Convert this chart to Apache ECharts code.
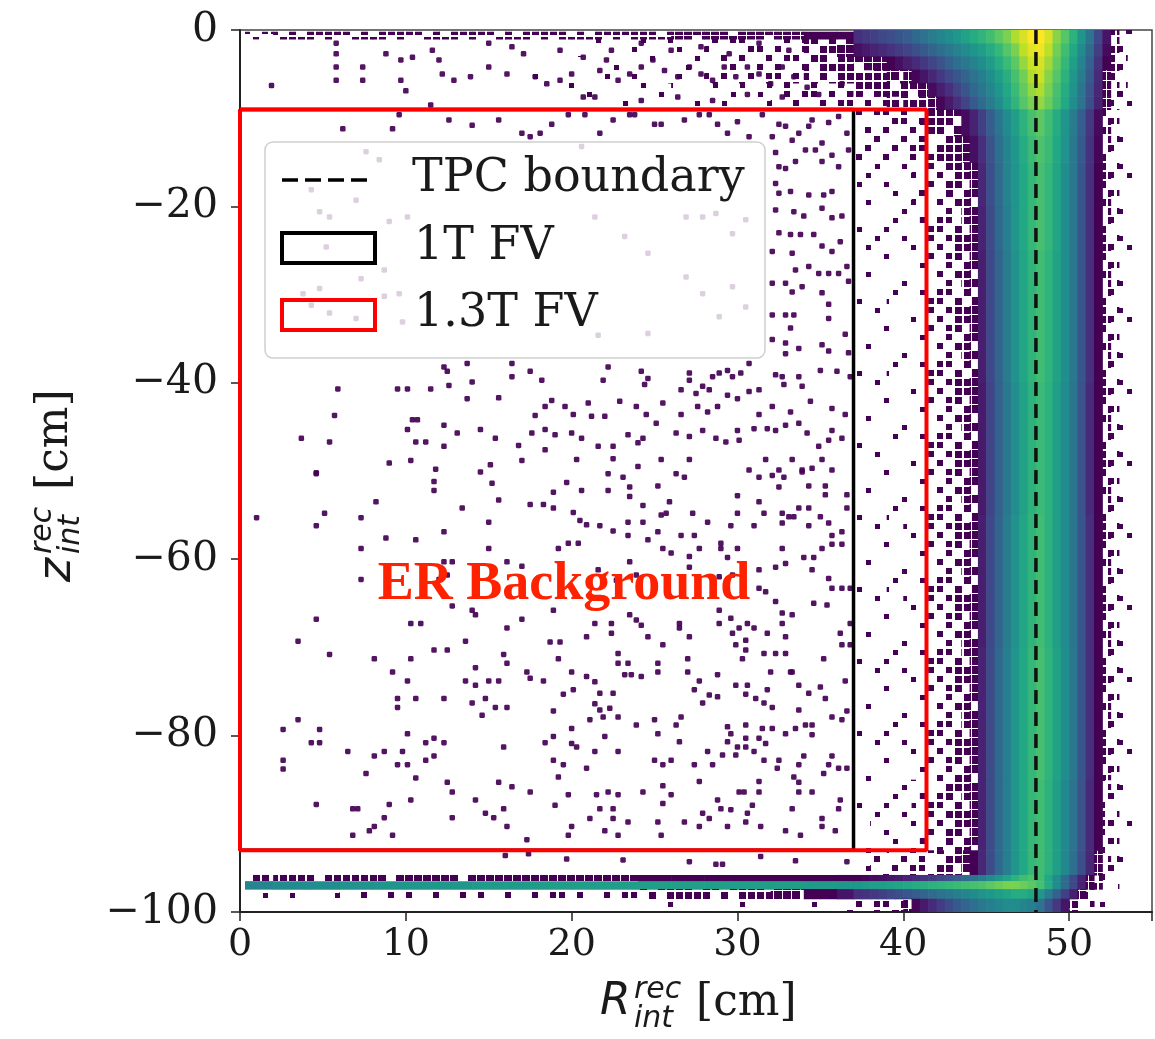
<!DOCTYPE html>
<html><head><meta charset="utf-8">
<script src="https://cdn.jsdelivr.net/npm/echarts@6/dist/echarts.min.js"></script>
<style>html,body{margin:0;padding:0;background:#fff}#c{width:1155px;height:1039px}</style>
</head><body><div id="c"></div>
<script>
// ---------- data ----------
const xTicks = [0, 10, 20, 30, 40, 50];
const yTicks = [0, -20, -40, -60, -80, -100];
const xRange = [0, 55];
const yRange = [-100, 0];
const tpcBoundaryR = 48.0;
const fv1R = [0, 37.0], fv1Z = [-9, -93];
const fv13R = [0, 41.4], fv13Z = [-9, -93];

// individual sparse events [R, z]
const sparseEvents = [
[5.8,-1.5],[5.8,-2.7],[5.8,-4.2],[5.8,-5.7],[7.4,-4.2],[7.4,-5.7],[1.9,-6.3],[8.8,-2.7],[9.7,-3.4],[10.4,-3.1],[11.6,-2.3],[12.0,-3.4],[12.2,-5.0],[9.7,-5.7],[10.0,-6.9],[12.9,-5.7],[13.9,-5.3],[15.0,-4.2],[16.1,-5.0],[16.4,-1.9],[15.0,-1.5],[17.8,-5.3],[18.5,-6.1],[19.3,-5.7],[20.0,-5.0],[20.7,-7.6],[21.4,-7.6],[21.7,-4.6],[22.1,-3.4],[22.8,-5.7],[23.5,-5.0],[24.2,-4.2],[24.2,-8.0],[24.9,-3.4],[25.6,-4.6],[26.4,-5.3],[27.1,-4.2],[27.8,-5.0],[28.5,-5.7],[29.2,-4.2],[29.9,-5.3],[30.6,-4.2],[31.3,-5.0],[32.0,-6.1],[32.7,-4.2],[33.4,-5.3],[34.2,-6.5],[26.4,-7.6],[28.5,-8.0],[30.6,-7.3],[32.7,-7.6],[34.9,-7.3],[36.3,-6.1],[17.1,-2.7],[19.3,-2.3],[20.7,-3.1],[22.4,-2.3],[24.2,-1.5],[26.0,-2.3],[27.8,-1.9],[29.5,-2.7],[31.3,-1.5],[33.1,-2.3],
[11.5,-8.5],[9.6,-9.6],[6.2,-11.2],[9.2,-11.2],[12.6,-10.2],[14.0,-10.8],[15.6,-10.2],[17.0,-11.7],[17.5,-12.1],[18.1,-11.7],[12.3,-38.2],[12.5,-38.7],[13.7,-37.8],[16.4,-37.8],[5.9,-40.7],[9.5,-40.7],[10.1,-40.7],[11.5,-40.7],[12.6,-40.3],[14.0,-39.9],[13.7,-41.8],[15.6,-41.7],[16.4,-39.3],[17.5,-38.7],[18.2,-39.7],[5.7,-43.7],[10.4,-44.2],[10.7,-44.2],[12.3,-44.8],[17.8,-43.7],[18.4,-42.7],[10.1,-45.3],[13.1,-45.7],[14.5,-45.3],[15.4,-46.3],[17.6,-45.7],[18.4,-45.3],[3.7,-46.3],[5.4,-46.7],[10.6,-46.7],[11.2,-46.7],[12.3,-47.2],[16.8,-47.1],[18.4,-47.6],[9.0,-49.1],[10.3,-48.8],[11.8,-49.8],[14.5,-50.1],[15.1,-49.3],[17.0,-48.8],[4.6,-50.2],
[7.6,-13.8],[8.4,-14.7],[4.3,-18.1],[4.8,-20.6],[5.4,-21.2],[7.0,-19.3],[9.0,-21.7],[10.1,-21.2],[5.2,-24.6],[8.7,-27.2],[7.3,-28.2],[3.8,-29.9],[4.8,-29.3],[4.3,-31.2],[5.4,-32.1],[7.0,-32.7],[8.7,-30.2],[9.6,-29.9],[9.8,-33.1],
[18.8,-10.7],[19.8,-9.6],[20.8,-9.6],[21.7,-11.7],[22.5,-10.2],[23.5,-9.6],[23.8,-9.6],[25.0,-10.7],[25.4,-10.7],[26.8,-10.2],[27.7,-9.6],[28.3,-9.6],[28.8,-10.7],[29.4,-11.7],[30.0,-10.4],[30.7,-12.1],[31.5,-9.6],[32.1,-12.1],[32.5,-10.7],[32.9,-10.9],[33.3,-12.5],[33.7,-11.7],[34.3,-10.9],[34.5,-10.2],[35.1,-12.8],[35.5,-10.5],[36.1,-9.8],[36.6,-11.7],
[32.3,-13.9],[32.5,-15.5],[32.3,-17.4],[32.9,-15.7],[33.5,-14.9],[34.1,-13.6],[34.7,-13.6],[35.1,-14.9],[35.7,-14.2],[36.1,-15.5],[36.7,-13.6],[32.5,-18.5],[33.2,-18.3],[34.3,-18.7],[35.2,-18.7],[35.7,-18.3],[32.3,-20.4],[33.4,-20.6],[34.0,-21.1],[35.1,-20.2],[35.7,-21.3],[36.3,-21.1],[32.5,-23.0],[33.2,-23.2],[33.8,-23.2],[34.6,-23.2],[35.1,-24.5],[35.7,-25.1],[36.2,-24.0],[36.6,-26.8],[32.1,-25.1],[33.3,-25.3],[33.5,-27.2],[34.3,-26.8],[34.9,-27.6],[35.5,-27.6],[36.1,-27.6],[32.1,-28.7],[32.9,-28.7],[33.3,-29.7],[33.9,-29.1],[35.1,-29.8],[35.5,-31.1],[36.7,-28.5],[32.1,-32.3],[32.9,-32.3],[33.4,-32.3],[33.2,-33.8],[35.5,-32.7],[32.1,-35.1],[32.9,-35.5],[32.9,-36.7],[33.7,-36.1],[35.1,-35.7],[35.5,-36.4],[36.5,-34.5],[36.7,-36.6],
[22.2,-38.2],[21.9,-39.7],[24.2,-38.7],[24.4,-40.2],[24.6,-39.5],[27.1,-38.9],[27.1,-39.7],[26.6,-40.8],[27.5,-41.2],[27.9,-40.4],[28.3,-40.8],[28.5,-39.3],[28.9,-38.9],[29.4,-38.6],[29.7,-39.3],[30.2,-38.9],[30.7,-37.8],[31.3,-40.8],[32.3,-39.1],[32.7,-39.3],[32.8,-40.2],[33.7,-39.3],[33.9,-40.4],[35.0,-38.6],[36.0,-38.7],[36.8,-39.3],[18.8,-42.0],[19.6,-42.7],[20.1,-43.6],[21.0,-42.3],[22.0,-43.8],[21.2,-43.8],[22.9,-42.1],[23.9,-42.7],[24.5,-43.6],[25.5,-42.3],[26.6,-43.6],[27.6,-42.7],[28.2,-43.3],[28.8,-42.7],[29.4,-41.4],[30.0,-41.8],[30.7,-41.0],[31.3,-43.6],[32.1,-42.7],[33.2,-43.3],[34.4,-42.1],[35.7,-42.9],[36.5,-43.6],[19.0,-45.9],[20.0,-45.7],[20.6,-46.3],[21.6,-47.2],[22.5,-47.2],[23.4,-45.9],[24.0,-46.8],[24.3,-46.3],[25.1,-44.6],[25.4,-48.7],[26.3,-45.7],[27.1,-46.1],[27.9,-45.4],[28.7,-46.3],[29.3,-46.7],[30.0,-45.4],[30.1,-46.5],[31.0,-45.2],[31.8,-45.2],[32.3,-45.4],[32.9,-44.8],[33.7,-44.6],[34.2,-45.7],[34.9,-47.2],[35.5,-46.5],[35.7,-45.4],[36.3,-46.3],[20.3,-48.7],[22.5,-48.6],[24.0,-49.5],[27.1,-48.7],[30.7,-49.9],[31.7,-48.7],[32.5,-49.9],[33.3,-48.7],[33.9,-49.9],[34.5,-49.7],[35.1,-48.7],[35.7,-49.9],
[20.6,-13.2],[21.4,-21.2],[23.2,-23.4],[24.6,-25.3],[26.9,-21.2],[27.9,-21.2],[28.7,-20.8],[29.7,-23.1],[30.5,-21.5],[26.9,-28.0],[27.9,-29.9],[29.7,-29.1],[28.9,-32.5],[24.6,-34.4],[21.6,-34.6],[30.5,-31.4],
[1.0,-55.3],[4.6,-50.3],[4.6,-56.2],[5.1,-54.8],[7.3,-55.3],[7.3,-58.8],[7.3,-62.3],[8.2,-53.5],[8.8,-57.6],[10.6,-57.8],[11.7,-51.2],[11.7,-52.2],[13.4,-54.2],[15.0,-55.8],[15.0,-58.8],[15.2,-51.4],[15.6,-53.3],[12.3,-56.9],[12.3,-60.3],[12.8,-60.3],[12.5,-61.8],[12.0,-62.3],[4.6,-66.8],[3.5,-69.3],[5.4,-70.8],[8.1,-71.3],[10.3,-67.3],[10.9,-67.3],[10.3,-71.3],[9.2,-72.8],[10.1,-73.8],[11.7,-70.3],[12.5,-70.3],[13.6,-69.3],[12.8,-65.3],[14.0,-65.8],[14.2,-66.3],[16.1,-67.8],[17.0,-66.8],[15.9,-70.8],[16.1,-71.8],[14.2,-72.3],[13.6,-73.8],[14.2,-74.3],[15.0,-73.8],[15.6,-73.8],[17.3,-72.8],[17.5,-73.5],[18.3,-73.8],[9.5,-75.8],[9.5,-76.8],[10.6,-75.8],[12.3,-75.8],[14.0,-76.3],[14.8,-75.8],[14.6,-77.7],[15.4,-76.8],[16.1,-76.8],[3.5,-78.2],[2.6,-79.3],[4.8,-79.3],[4.3,-80.8],[4.8,-80.8],[10.1,-79.8],[11.2,-80.8],[11.7,-80.3],[12.3,-80.8],[6.5,-81.8],[8.1,-82.3],[8.7,-81.8],[9.8,-81.8],[9.5,-83.3],[10.1,-83.3],[11.2,-82.8],[11.7,-82.3],[2.6,-82.8],[2.6,-83.8],[7.6,-84.3],[10.6,-84.8],[12.5,-85.3],[12.8,-86.4],[15.9,-81.3],[15.6,-85.3],[16.4,-85.8],[17.5,-86.4],[4.6,-87.8],[6.8,-88.3],[7.1,-88.3],[9.0,-87.8],[8.7,-89.3],[10.3,-87.3],[8.1,-90.3],[7.8,-90.8],[6.8,-91.3],[9.2,-91.3],[12.8,-89.3],[14.2,-87.3],[14.8,-88.8],[15.3,-89.3],[15.9,-88.3],[16.1,-90.3],[17.3,-91.8],[17.5,-53.8],[18.3,-53.8],[17.0,-60.8],[16.1,-60.3],[18.4,-80.8],
[22.2,-50.3],[23.1,-50.7],[26.3,-50.3],[26.8,-50.7],[31.3,-50.7],[32.1,-50.5],[32.8,-50.7],[33.9,-50.1],[19.7,-51.3],[20.6,-52.2],[22.2,-52.2],[23.5,-51.8],[23.5,-52.9],[25.2,-51.7],[30.0,-52.8],[31.3,-53.5],[32.5,-51.8],[34.3,-51.7],[35.3,-51.7],[35.3,-52.7],[36.6,-52.7],[18.9,-52.4],[18.9,-54.2],[20.1,-54.7],[20.5,-55.6],[20.9,-56.1],[21.7,-56.2],[22.5,-56.8],[23.4,-55.8],[23.4,-57.3],[24.3,-55.8],[24.3,-53.9],[25.2,-56.9],[25.4,-55.0],[25.7,-54.8],[25.9,-53.5],[26.6,-57.3],[27.3,-54.8],[27.4,-57.3],[28.2,-55.8],[29.6,-56.2],[30.0,-54.8],[31.0,-56.2],[31.6,-54.8],[32.7,-54.8],[32.7,-55.9],[33.1,-55.2],[33.4,-55.2],[33.7,-54.2],[34.3,-54.2],[34.3,-56.2],[35.0,-55.2],[35.5,-55.9],[35.7,-57.3],[36.3,-56.9],[36.6,-54.2],
[19.2,-58.8],[19.8,-58.2],[20.4,-58.2],[21.6,-61.2],[23.5,-60.3],[24.6,-57.8],[25.5,-58.8],[26.0,-59.3],[27.1,-59.7],[27.1,-60.9],[27.7,-58.8],[29.0,-58.2],[29.0,-58.8],[29.4,-59.8],[30.0,-58.8],[31.3,-61.2],[32.3,-60.9],[32.7,-58.8],[32.9,-60.5],[34.0,-59.8],[34.6,-59.8],[34.5,-61.2],[35.1,-58.8],[35.7,-58.3],[36.3,-58.3],[22.7,-62.4],[23.9,-61.8],[28.9,-62.0],[29.7,-61.8],[31.3,-63.3],[31.7,-63.7],[32.3,-64.8],[35.5,-62.2],[35.7,-63.3],[36.3,-63.3],[36.8,-63.3],[35.4,-65.2],
[18.9,-65.8],[21.4,-67.3],[22.4,-67.3],[22.4,-68.4],[23.5,-66.3],[23.9,-66.9],[24.2,-67.5],[24.6,-68.8],[26.5,-67.3],[26.5,-67.8],[27.1,-68.8],[28.9,-65.8],[28.9,-67.3],[29.6,-66.7],[29.7,-68.4],[30.1,-67.8],[30.6,-67.3],[31.0,-67.8],[31.8,-68.4],[32.7,-66.1],[32.7,-67.3],[33.3,-66.3],[32.9,-68.8],[34.6,-65.0],[36.2,-68.4],[36.8,-67.3],
[18.7,-69.4],[19.3,-69.4],[19.2,-71.3],[20.9,-68.8],[22.8,-70.7],[22.8,-71.8],[23.4,-71.8],[25.5,-69.7],[25.2,-71.8],[25.2,-72.8],[27.0,-71.3],[27.0,-72.8],[29.9,-69.7],[30.5,-69.2],[30.5,-70.3],[30.3,-71.3],[31.6,-70.7],[32.3,-70.7],[32.9,-70.7],[35.2,-71.3],[36.3,-69.7],[36.8,-69.7],[32.0,-72.8],[33.3,-72.8],
[20.0,-72.8],[20.9,-73.3],[21.4,-73.9],[19.5,-75.3],[20.1,-74.8],[21.7,-75.2],[22.5,-75.2],[21.4,-76.4],[22.3,-76.9],[21.9,-77.9],[22.8,-77.9],[23.6,-73.1],[23.2,-73.1],[24.2,-73.3],[27.7,-73.8],[27.4,-74.8],[28.3,-75.4],[28.8,-75.6],[27.9,-76.3],[28.8,-73.1],[29.9,-74.3],[30.6,-74.3],[30.5,-75.3],[31.1,-75.8],[31.6,-76.3],[32.1,-76.8],[31.8,-74.8],[33.2,-72.8],[33.7,-74.3],[34.3,-75.2],[35.0,-74.5],[35.3,-75.8],[36.5,-73.8],[33.7,-77.1],
[18.9,-77.2],[21.1,-78.2],[21.7,-77.1],[23.9,-78.8],[25.0,-78.2],[25.2,-79.8],[26.3,-78.8],[26.6,-77.9],[29.4,-79.0],[29.6,-79.8],[30.5,-78.8],[31.5,-79.2],[32.1,-79.2],[32.9,-79.8],[33.5,-79.2],[34.1,-78.8],[34.5,-78.8],[34.5,-79.9],[35.7,-77.9],[36.3,-78.2],[36.6,-77.2],[18.9,-80.1],[20.0,-79.2],[22.0,-80.1],
[20.0,-80.9],[20.3,-81.3],[21.4,-81.8],[22.8,-81.8],[26.5,-80.7],[28.2,-81.8],[29.1,-82.2],[29.4,-80.7],[29.9,-82.2],[30.0,-81.3],[30.5,-81.3],[30.5,-80.3],[31.0,-81.8],[31.3,-80.3],[31.7,-80.9],[31.6,-82.8],[32.5,-82.8],[25.0,-82.8],[25.5,-83.3],[26.0,-82.8],[27.4,-83.3],[28.5,-83.3],[18.9,-82.8],[19.5,-83.3],[20.9,-83.7],[32.4,-83.7],[33.7,-83.3],[34.0,-82.3],[35.7,-82.3],[35.5,-83.3],[36.1,-83.7],[36.6,-83.7],[35.2,-84.3],
[19.2,-84.7],[27.7,-85.2],[31.3,-85.2],[31.3,-86.4],[33.4,-84.7],[33.7,-85.3],[33.7,-86.4],[34.5,-86.4],[30.1,-86.4],[30.4,-86.4],[28.8,-87.3],[25.5,-85.7],[26.0,-86.7],[24.3,-86.4],[22.8,-86.7],[22.2,-86.4],[21.5,-86.7],[19.8,-86.7],[19.0,-87.9],[21.7,-88.3],[22.5,-88.3],[25.5,-87.7],[30.9,-87.9],[33.3,-88.3],[36.2,-87.3],[36.1,-88.3],
[21.1,-89.4],[22.5,-89.4],[23.4,-89.8],[25.2,-89.8],[26.8,-89.8],[27.7,-90.3],[28.3,-89.4],[27.9,-88.8],[29.0,-88.3],[29.6,-88.4],[30.6,-88.8],[30.5,-89.8],[29.4,-90.3],[31.4,-90.3],[20.0,-90.3],[19.8,-91.3],[22.0,-90.8],[22.8,-91.3],[25.4,-91.3],[32.9,-90.8],[33.8,-91.3],[35.1,-89.4],[35.1,-90.3],[35.9,-90.8],
[16.0,-93.6],[17.4,-93.4],[19.7,-94.0],[23.1,-94.1],[27.1,-94.3],[28.7,-94.6],[29.1,-94.6],[31.4,-93.7],[33.5,-94.2],[36.6,-94.3]
];

// dense band histogram: R bin edges (cm), z rows [top, bottom], colour level per cell (<0.3 = partial occupancy)
const bandEdgesR = [37.0,37.5,38.0,38.5,39.0,39.5,40.0,40.5,41.0,41.5,42.0,42.5,43.0,43.5,44.0,44.5,45.0,45.5,46.0,46.5,47.0,47.5,48.0,48.5,49.0,49.5,50.0,50.5,51.0,51.5,52.0,52.5,53.0,53.5,54.0,54.5];
const bandRowsZ = [[0,-1.5],[-1.5,-3],[-3,-4.5],[-4.5,-6],[-6,-7.5],[-7.5,-9],[-9,-12],[-12,-15],[-15,-20],[-20,-25],[-25,-40],[-40,-55],[-55,-70],[-70,-85],[-85,-93],[-93,-95.8],[-95.8,-96.5],[-96.5,-97.4],[-97.4,-98.5],[-98.5,-100]];
const bandV = [
[0.40,0.42,0.44,0.46,0.48,0.50,0.52,0.55,0.58,0.61,0.64,0.67,0.70,0.73,0.76,0.79,0.82,0.86,0.90,0.94,0.97,1.00,1.00,0.97,0.91,0.85,0.78,0.69,0.59,0.46,0.34,0.27,0.20,0.14,0.09],
[0.33,0.35,0.37,0.39,0.41,0.43,0.45,0.48,0.51,0.54,0.57,0.60,0.63,0.66,0.69,0.72,0.76,0.80,0.85,0.90,0.95,0.98,0.99,0.95,0.89,0.82,0.75,0.66,0.56,0.44,0.32,0.26,0.19,0.13,0.08],
[0.28,0.28,0.29,0.29,0.30,0.33,0.36,0.39,0.42,0.45,0.49,0.53,0.57,0.60,0.63,0.67,0.71,0.76,0.81,0.86,0.92,0.96,0.97,0.93,0.87,0.80,0.72,0.63,0.53,0.41,0.30,0.25,0.18,0.12,0.08],
[0.26,0.26,0.27,0.27,0.28,0.28,0.29,0.31,0.34,0.38,0.42,0.46,0.50,0.54,0.58,0.62,0.67,0.72,0.77,0.83,0.89,0.94,0.96,0.91,0.85,0.78,0.70,0.61,0.51,0.39,0.29,0.24,0.17,0.11,0.07],
[0.24,0.24,0.25,0.25,0.26,0.26,0.27,0.28,0.29,0.32,0.36,0.40,0.45,0.50,0.55,0.59,0.64,0.69,0.75,0.81,0.87,0.92,0.94,0.90,0.83,0.76,0.68,0.59,0.49,0.38,0.29,0.23,0.17,0.11,0.07],
[0.22,0.22,0.23,0.23,0.24,0.24,0.25,0.26,0.27,0.28,0.31,0.35,0.40,0.45,0.51,0.56,0.61,0.67,0.73,0.79,0.85,0.90,0.92,0.88,0.82,0.75,0.67,0.58,0.48,0.37,0.28,0.23,0.16,0.10,0.06],
[0.19,0.19,0.20,0.20,0.21,0.21,0.22,0.23,0.24,0.25,0.26,0.27,0.29,0.32,0.37,0.44,0.52,0.59,0.66,0.72,0.78,0.83,0.86,0.82,0.76,0.69,0.61,0.52,0.42,0.32,0.25,0.20,0.14,0.09,0.06],
[0.17,0.17,0.17,0.18,0.18,0.18,0.19,0.19,0.20,0.22,0.24,0.25,0.27,0.29,0.33,0.40,0.49,0.57,0.64,0.70,0.76,0.81,0.84,0.81,0.75,0.68,0.60,0.51,0.41,0.31,0.25,0.19,0.14,0.09,0.05],
[0.15,0.15,0.15,0.15,0.16,0.16,0.16,0.17,0.18,0.20,0.22,0.24,0.25,0.27,0.29,0.38,0.48,0.56,0.63,0.69,0.75,0.80,0.83,0.80,0.74,0.67,0.60,0.50,0.40,0.30,0.24,0.19,0.13,0.08,0.05],
[0.13,0.13,0.13,0.14,0.14,0.14,0.15,0.15,0.17,0.19,0.21,0.23,0.25,0.27,0.29,0.37,0.47,0.55,0.62,0.69,0.75,0.80,0.83,0.80,0.74,0.67,0.60,0.50,0.40,0.30,0.24,0.19,0.13,0.08,0.05],
[0.11,0.11,0.11,0.11,0.12,0.12,0.12,0.13,0.15,0.18,0.20,0.22,0.24,0.26,0.28,0.36,0.46,0.54,0.61,0.68,0.74,0.79,0.82,0.79,0.73,0.67,0.60,0.50,0.40,0.30,0.24,0.19,0.13,0.08,0.05],
[0.10,0.10,0.11,0.11,0.11,0.12,0.12,0.13,0.15,0.18,0.20,0.22,0.24,0.26,0.28,0.35,0.45,0.53,0.60,0.67,0.73,0.78,0.81,0.78,0.72,0.66,0.59,0.49,0.39,0.30,0.24,0.19,0.13,0.08,0.05],
[0.10,0.11,0.11,0.11,0.12,0.12,0.13,0.14,0.16,0.18,0.20,0.22,0.24,0.26,0.28,0.36,0.46,0.54,0.61,0.68,0.74,0.79,0.82,0.78,0.72,0.66,0.59,0.50,0.40,0.30,0.24,0.19,0.13,0.08,0.05],
[0.11,0.11,0.11,0.12,0.12,0.13,0.13,0.14,0.16,0.19,0.21,0.23,0.25,0.27,0.29,0.37,0.47,0.55,0.62,0.69,0.75,0.80,0.83,0.79,0.73,0.67,0.60,0.50,0.40,0.30,0.24,0.19,0.13,0.08,0.05],
[0.12,0.12,0.13,0.13,0.14,0.14,0.15,0.16,0.18,0.20,0.22,0.24,0.26,0.27,0.29,0.37,0.47,0.55,0.62,0.69,0.75,0.80,0.82,0.78,0.72,0.65,0.58,0.49,0.39,0.30,0.23,0.18,0.12,0.08,0.05],
[0.16,0.16,0.17,0.17,0.18,0.18,0.19,0.20,0.21,0.23,0.24,0.25,0.26,0.28,0.30,0.38,0.47,0.55,0.62,0.69,0.75,0.80,0.82,0.78,0.72,0.65,0.57,0.48,0.38,0.29,0.23,0.18,0.12,0.08,0.05],
[0.30,0.31,0.32,0.33,0.34,0.35,0.37,0.39,0.41,0.43,0.46,0.49,0.52,0.55,0.58,0.62,0.66,0.70,0.74,0.78,0.82,0.84,0.82,0.75,0.66,0.56,0.46,0.37,0.29,0.24,0.19,0.13,0.08,0.05,0.03],
[0.70,0.71,0.72,0.72,0.73,0.74,0.75,0.76,0.77,0.78,0.79,0.80,0.81,0.82,0.83,0.84,0.86,0.88,0.90,0.90,0.88,0.86,0.83,0.76,0.66,0.56,0.46,0.37,0.29,0.24,0.19,0.13,0.08,0.05,0.03],
[0.40,0.41,0.42,0.44,0.46,0.48,0.50,0.52,0.54,0.56,0.58,0.60,0.62,0.64,0.66,0.68,0.70,0.72,0.74,0.76,0.76,0.74,0.70,0.62,0.53,0.44,0.36,0.29,0.24,0.19,0.13,0.09,0.05,0.03,0.02],
[0.19,0.20,0.21,0.22,0.23,0.25,0.28,0.31,0.35,0.39,0.43,0.47,0.51,0.54,0.57,0.60,0.62,0.64,0.66,0.66,0.64,0.62,0.58,0.50,0.42,0.34,0.27,0.22,0.18,0.13,0.09,0.05,0.03,0.02,0.00]
];

// strips left of the band (top rows and the bottom ER band)
const stripEdgesR = [0.3,2,4,6,8,10,12,14,16,18,20,22,24,26,28,30,32,34,36,37];
const stripRowsZ = [[-0.2,-1.0],[-1,-3],[-3,-6],[-6,-9],[-95.8,-96.5],[-96.5,-97.4],[-97.4,-98.5],[-98.5,-100]];
const stripV = [
[0.23,0.25,0.25,0.24,0.25,0.25,0.25,0.25,0.26,0.26,0.26,0.27,0.27,0.28,0.28,0.29,0.29,0.30,0.30],
[0,0,0,0,0,0,0,0.05,0.06,0.08,0.10,0.12,0.14,0.16,0.18,0.20,0.22,0.25,0.29],
[0,0,0,0,0,0,0,0.04,0.05,0.07,0.09,0.11,0.13,0.15,0.17,0.19,0.21,0.24,0.27],
[0,0,0,0,0,0,0,0,0.04,0.05,0.07,0.08,0.10,0.12,0.14,0.16,0.18,0.21,0.23],
[0.26,0.27,0.27,0.27,0.28,0.28,0.28,0.28,0.29,0.29,0.29,0.29,0.30,0.30,0.30,0.30,0.30,0.30,0.30],
[0.64,0.66,0.67,0.68,0.69,0.70,0.70,0.71,0.71,0.72,0.72,0.72,0.72,0.72,0.72,0.72,0.72,0.71,0.70],
[0.15,0.16,0.16,0.17,0.17,0.18,0.18,0.19,0.20,0.21,0.22,0.23,0.24,0.25,0.26,0.27,0.28,0.30,0.34],
[0,0,0.05,0,0.06,0,0.05,0.06,0.05,0.07,0.06,0.08,0.08,0.09,0.10,0.11,0.13,0.15,0.17]
];

const levelColors = ['#440154','#440154','#481a6c','#472f7d','#414487','#39568c','#31688e','#2a788e','#23888e','#1f988b','#22a884','#35b779','#54c568','#7ad151','#bddf26','#fde725'];
// fixed ordered-dither mask (8x8) used to draw partially occupied bins as dots
const ditherMask = [
[16,32,48, 0,56,24, 8,40],
[25,41, 9,57,33,17,49, 1],
[50, 2,26,42,10,58,34,18],
[11,59,35,19,43, 3,27,51],
[36,20, 4,52,28,60,44,12],
[45,29,61,13,21,53, 5,37],
[ 6,54,22,38,62,14,46,30],
[55,15,47,31, 7,39,23,63]
];

// ---------- build ----------
const cells = [];
function addGrid(edges, rows, vals) {
  for (let i = 0; i < rows.length; i++) {
    for (let j = 0; j < edges.length - 1; j++) {
      const v = vals[i][j];
      if (v > 0) cells.push([edges[j], edges[j + 1], rows[i][0], rows[i][1], v]);
    }
  }
}
addGrid(stripEdgesR, stripRowsZ, stripV);
addGrid(bandEdgesR, bandRowsZ, bandV);

const patternCache = {};
function dotPattern(n) {
  if (patternCache[n]) return patternCache[n];
  const cs = 9, N = 8, c = document.createElement('canvas');
  c.width = cs * N; c.height = cs * N;
  const g = c.getContext('2d');
  g.fillStyle = '#440154';
  const d = n / 64, sz = d < 0.3 ? 5 : (d < 0.6 ? 6 : (d < 0.85 ? 7 : 8));
  for (let i = 0; i < N; i++) for (let j = 0; j < N; j++) {
    if (ditherMask[i][j] < n) g.fillRect(j * cs + Math.floor((cs - sz) / 2), i * cs + Math.floor((cs - sz) / 2), sz, sz);
  }
  patternCache[n] = { image: c, repeat: 'repeat' };
  return patternCache[n];
}

function rectPath(r, z) { return [[r[0], z[0]], [r[1], z[0]], [r[1], z[1]], [r[0], z[1]], [r[0], z[0]]]; }

const chart = echarts.init(document.getElementById('c'), null, { renderer: 'canvas' });
const serif = 'DejaVu Serif';
const ink = '#1a1a1a';

chart.setOption({
  animation: false,
  backgroundColor: '#ffffff',
  grid: { left: 240, top: 30, width: 918.5, height: 882, show: true, borderColor: '#444', borderWidth: 1.5, backgroundColor: 'transparent' },
  xAxis: {
    type: 'value', min: xRange[0], max: xRange[1], interval: xTicks[1] - xTicks[0],
    axisLine: { show: true, onZero: false, lineStyle: { color: '#222', width: 2 } },
    axisTick: { show: true, length: 9, lineStyle: { color: '#222', width: 1.5 } },
    axisLabel: { fontFamily: serif, fontSize: 38, color: ink, margin: 14,
      formatter: v => xTicks.includes(v) ? String(v) : '' },
    splitLine: { show: false }
  },
  yAxis: {
    type: 'value', min: yRange[0], max: yRange[1], interval: 20,
    axisLine: { show: true, onZero: false, lineStyle: { color: '#222', width: 2 } },
    axisTick: { show: true, length: 9, lineStyle: { color: '#222', width: 1.5 } },
    axisLabel: { fontFamily: serif, fontSize: 41, color: ink, margin: 22,
      formatter: v => yTicks.includes(v) ? String(v).replace('-', '\u2212') : '' },
    splitLine: { show: false }
  },
  visualMap: { type: 'continuous', show: false, min: 0.25, max: 1, dimension: 4, seriesIndex: 0, inRange: { color: levelColors } },
  series: [
    {
      type: 'custom', coordinateSystem: 'cartesian2d', data: cells, encode: { x: [0, 1], y: [2, 3] },
      silent: true, z: 1, clip: true,
      renderItem: function (params, api) {
        const v = api.value(4);
        const p0 = api.coord([api.value(0), api.value(2)]);
        const p1 = api.coord([api.value(1), api.value(3)]);
        const shape = { x: Math.min(p0[0], p1[0]), y: Math.min(p0[1], p1[1]), width: Math.abs(p1[0] - p0[0]) + 0.6, height: Math.abs(p1[1] - p0[1]) + 0.6 };
        let fill;
        if (v < 0.3) {
          const n = Math.round(Math.pow(v / 0.3, 2) * 64);
          if (n <= 0) return null;
          fill = dotPattern(Math.min(n, 64));
        } else {
          fill = api.visual('color');
        }
        return { type: 'rect', shape: shape, style: { fill: fill } };
      }
    },
    { type: 'scatter', data: sparseEvents, symbol: 'roundRect', symbolSize: 5.5, itemStyle: { color: '#440154', opacity: 0.92 }, silent: true, z: 2 },
    { name: '1T FV', type: 'line', data: rectPath(fv1R, fv1Z), symbol: 'none', clip: false, silent: true, z: 3, lineStyle: { color: '#000', width: 3.5 } },
    { name: '1.3T FV', type: 'line', data: rectPath(fv13R, fv13Z), symbol: 'none', clip: false, silent: true, z: 4, lineStyle: { color: '#ff0000', width: 4 } },
    { name: 'TPC boundary', type: 'line', data: [[tpcBoundaryR, yRange[1]], [tpcBoundaryR, yRange[0]]], symbol: 'none', clip: false, silent: true, z: 5, lineStyle: { color: '#111', width: 3.5, type: [14, 8] } }
  ],
  graphic: [
    { type: 'rect', z: 100, shape: { x: 265, y: 142, width: 500, height: 216, r: 8 }, style: { fill: 'rgba(255,255,255,0.8)', stroke: '#cfcfcf', lineWidth: 1.5 } },
    { type: 'line', z: 101, shape: { x1: 282, y1: 180, x2: 370, y2: 180 }, style: { stroke: '#000', lineWidth: 3.5, lineDash: [16, 7] } },
    { type: 'rect', z: 101, shape: { x: 282, y: 233, width: 93, height: 30 }, style: { fill: 'transparent', stroke: '#000', lineWidth: 4 } },
    { type: 'rect', z: 101, shape: { x: 282, y: 300, width: 93, height: 30 }, style: { fill: 'transparent', stroke: '#ff0000', lineWidth: 4 } },
    { type: 'text', z: 101, x: 412, y: 179, style: { text: 'TPC boundary', font: '46px "DejaVu Serif"', fill: ink, align: 'left', verticalAlign: 'middle' } },
    { type: 'text', z: 101, x: 414, y: 247, style: { text: '1T FV', font: '46px "DejaVu Serif"', fill: ink, align: 'left', verticalAlign: 'middle' } },
    { type: 'text', z: 101, x: 414, y: 314, style: { text: '1.3T FV', font: '46px "DejaVu Serif"', fill: ink, align: 'left', verticalAlign: 'middle' } },
    { type: 'text', z: 102, x: 564, y: 585, style: { text: 'ER Background', font: 'bold 54px "Liberation Serif"', fill: '#ff2200', align: 'center', verticalAlign: 'middle' } },
    { type: 'text', z: 100, x: 600, y: 1003, style: { text: 'R', font: 'italic 44px "DejaVu Sans"', fill: ink, align: 'left', verticalAlign: 'middle' } },
    { type: 'text', z: 100, x: 634, y: 990, style: { text: 'rec', font: 'italic 30px "DejaVu Sans"', fill: ink, align: 'left', verticalAlign: 'middle' } },
    { type: 'text', z: 100, x: 634, y: 1019, style: { text: 'int', font: 'italic 30px "DejaVu Sans"', fill: ink, align: 'left', verticalAlign: 'middle' } },
    { type: 'text', z: 100, x: 696, y: 1004, style: { text: '[cm]', font: '44px "DejaVu Serif"', fill: ink, align: 'left', verticalAlign: 'middle' } },
    { type: 'group', z: 100, x: 58, y: 582, rotation: Math.PI / 2, children: [
      { type: 'text', z: 100, x: 0, y: 0, style: { text: 'z', font: 'italic 46px "DejaVu Sans"', fill: ink, align: 'left', verticalAlign: 'middle' } },
      { type: 'text', z: 100, x: 28, y: -15, style: { text: 'rec', font: 'italic 30px "DejaVu Sans"', fill: ink, align: 'left', verticalAlign: 'middle' } },
      { type: 'text', z: 100, x: 28, y: 13, style: { text: 'int', font: 'italic 30px "DejaVu Sans"', fill: ink, align: 'left', verticalAlign: 'middle' } },
      { type: 'text', z: 100, x: 92, y: -2, style: { text: '[cm]', font: '44px "DejaVu Serif"', fill: ink, align: 'left', verticalAlign: 'middle' } }
    ] }
  ]
});
</script>
</body></html>
